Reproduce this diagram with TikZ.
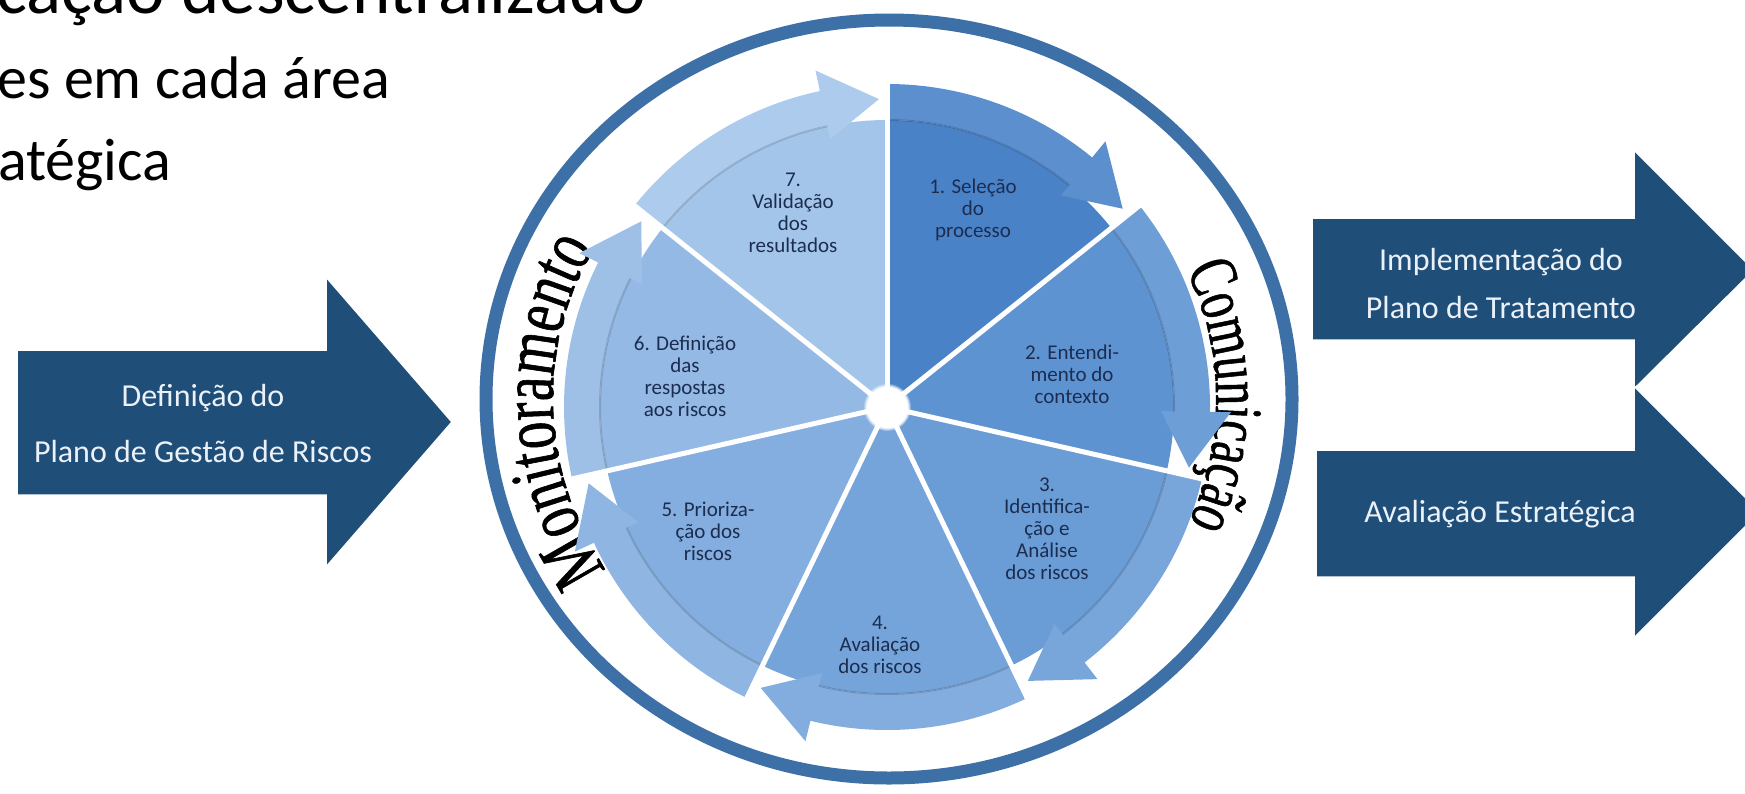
\documentclass[tikz,border=0pt]{standalone}
\usepackage{fontspec}
\setmainfont{Carlito}
\newfontfamily\ringfont[FakeStretch=0.72,FakeBold=0.8]{Liberation Serif}
\newfontfamily\ringfontnarrow[FakeStretch=0.7,FakeBold=0.8]{Liberation Serif}
\newcommand\ringsize{\ringfont\fontsize{76}{76}\selectfont}
\newcommand\ringsizeb{\ringfontnarrow\fontsize{68}{68}\selectfont}
\usetikzlibrary{decorations.text,fadings}
\definecolor{navy}{RGB}{31,78,121}
\definecolor{ringblue}{RGB}{61,112,166}
\definecolor{labeltext}{RGB}{28,45,80}
\definecolor{arrowtext}{RGB}{235,241,248}
\definecolor{segA}{RGB}{74,130,200}
\definecolor{segB}{RGB}{94,147,210}
\definecolor{segC}{RGB}{106,156,214}
\definecolor{segD}{RGB}{117,164,218}
\definecolor{segE}{RGB}{131,174,223}
\definecolor{segF}{RGB}{147,185,228}
\definecolor{segG}{RGB}{164,197,234}
\tikzset{
  arrowlabel/.style={text=arrowtext, align=center, inner sep=0pt},
  seglabel/.style={text=labeltext, align=center, inner sep=0pt, font=\fontsize{21}{22}\selectfont},
  bigarrow/.style={fill=navy, draw=white, line width=1.5pt},
  bodytext/.style={anchor=base west, inner sep=0pt, text=black},
  divider/.style={white, line width=5pt},
}
\begin{document}
\begin{tikzpicture}[x=1pt,y=1pt]
\useasboundingbox (0,0) rectangle (1745,-793);
\clip (0,0) rectangle (1745,-793);
\fill[white] (0,0) rectangle (1745,-793);

% top-left text
\node[bodytext, font=\fontsize{73}{73}\selectfont] (t1) at (-4,-13) {cação descentralizado};
\node[bodytext, font=\fontsize{60}{60}\selectfont] (t2) at (-3,-98) {es em cada área};
\node[bodytext, font=\fontsize{60}{60}\selectfont] (t3) at (-2,-180) {atégica};

% left arrow
\path[bigarrow] (17,-350) -- (326,-350) -- (326,-277) -- (452,-422) -- (326,-567) -- (326,-495) -- (17,-495) -- cycle;
\node[arrowlabel, font=\fontsize{32}{56}\selectfont] (inlbl) at (203,-423) {Definição do\\Plano de Gestão de Riscos};

% right arrows
\path[bigarrow] (1312,-218) -- (1634,-218) -- (1634,-150) -- (1754,-270) -- (1634,-389) -- (1634,-340) -- (1312,-340) -- cycle;
\path[bigarrow] (1316,-450) -- (1634,-450) -- (1634,-386) -- (1760,-512) -- (1634,-638) -- (1634,-577) -- (1316,-577) -- cycle;
\node[arrowlabel, font=\fontsize{32}{48}\selectfont] (outA) at (1501,-284) {Implementação do\\Plano de Tratamento};
\node[arrowlabel, font=\fontsize{32}{48}\selectfont] (outB) at (1500,-514) {Avaliação Estratégica};

% ring
\draw[ringblue, line width=13pt] (889,-399) ellipse [x radius=403pt, y radius=379pt];
\begin{scope}[shift={(889,-399)}]
  \path[decorate, decoration={text along path, text align=center, text color=black,
     text={|\ringsize|Monitoramento}}]
     (252:336pt and 316pt) arc[start angle=252, end angle=112, x radius=336pt, y radius=316pt];
  \path[decorate, decoration={text along path, text align=center, text color=black,
     text={|\ringsizeb|Comunicação}}]
     (70.5:327pt and 309pt) arc[start angle=70.5, end angle=-69.5, x radius=327pt, y radius=309pt];
\end{scope}

% pie
\begin{scope}[shift={(887,-407)}]
  \foreach \i/\c in {1/segA,2/segB,3/segC,4/segD,5/segE,6/segF,7/segG}{
    \pgfmathsetmacro\as{90-51.4286*(\i-1)}
    \pgfmathsetmacro\ae{\as-51.4286}
    \fill[\c] (0,0) -- (\as:287pt) arc[start angle=\as, end angle=\ae, radius=287pt] -- cycle;
  }
  \foreach \i/\c in {1/segA,2/segB,3/segC,4/segD,5/segE,6/segF,7/segG}{
    \pgfmathsetmacro\as{90-51.4286*(\i-1)}
    \pgfmathsetmacro\ae{\as-51.4286}
    \pgfmathsetmacro\ah{\ae+12}
    \pgfmathsetmacro\at{\ae+1.5}
    \fill[\c!90!white] (\as:287pt) arc[start angle=\as, end angle=\ah, radius=287pt]
      -- (\ah:274pt) -- (\at:308pt) -- (\ah:344pt) -- (\ah:323pt)
      arc[start angle=\ah, end angle=\as, radius=323pt] -- cycle;
    \draw[\c!60!black, opacity=0.35, line width=2pt] (\as:287pt) arc[start angle=\as, end angle=\ah, radius=287pt];
  }
  \foreach \k in {0,...,6}{
    \draw[divider] (0,0) -- ({90-51.4286*\k}:325pt);
  }
  \fill[white, path fading=circle with fuzzy edge 15 percent] (0,0) circle (24pt);
\end{scope}

% segment labels
\node[seglabel] (s1) at (973,-210) {1. Seleção\\do\\processo};
\node[seglabel] (s2) at (1072,-374) {2. Entendi-\\mento do\\contexto};
\node[seglabel] (s3) at (1047,-529) {3.\\Identifica-\\ção e\\Análise\\dos riscos};
\node[seglabel] (s4) at (880,-645) {4.\\Avaliação\\dos riscos};
\node[seglabel] (s5) at (708,-531) {5. Prioriza-\\ção dos\\riscos};
\node[seglabel] (s6) at (685,-376) {6. Definição\\das\\respostas\\aos riscos};
\node[seglabel] (s7) at (793,-213) {7.\\Validação\\dos\\resultados};
\end{tikzpicture}
\end{document}
